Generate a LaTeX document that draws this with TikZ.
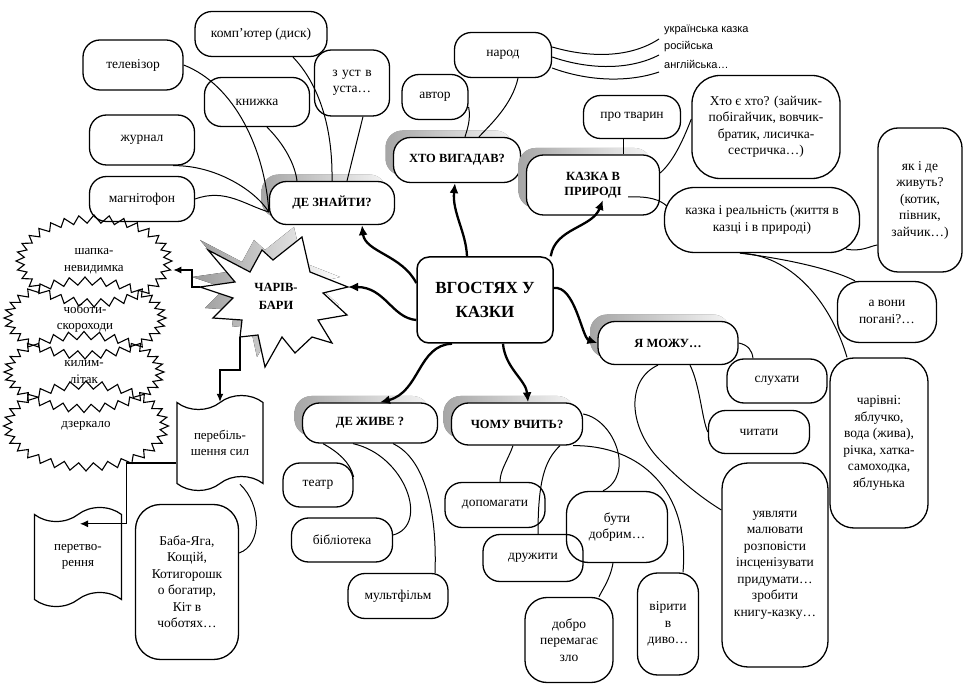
\documentclass[tikz,border=0pt]{standalone}
\usepackage{fontspec}
\setmainfont{Liberation Serif}
\newfontfamily\sansf{Liberation Sans}
\usetikzlibrary{shapes.symbols,shadows,arrows.meta}
\begin{document}
\begin{tikzpicture}[x=1pt,y=-1pt,
  every node/.style={inner sep=2pt, align=center},
  sbox/.style={draw, line width=1.3pt, rounded corners=17pt, font=\fontsize{13.5}{16.5}\selectfont},
  hbox/.style={draw, line width=1.3pt, rounded corners=17pt, fill=white,
    font=\bfseries\fontsize{12.5}{15}\selectfont,
    drop shadow={shadow xshift=-8pt, shadow yshift=7pt, opacity=1, left color=black!35, right color=black!4}},
  zig/.style={starburst, starburst points=32, starburst point height=8pt, random starburst=0,
    draw, line width=1.1pt, inner sep=0pt,
    font=\fontsize{13}{16.5}\selectfont},
  tapebox/.style={tape, draw, line width=1.2pt, tape bend height=14pt, inner sep=0pt,
    font=\fontsize{13}{16.5}\selectfont},
  con/.style={line width=1pt},
  mainarr/.style={line width=2.3pt, -{Latex[length=10pt,width=9pt]}},
  thinarr/.style={line width=1.1pt, -{Latex[length=8pt,width=7pt]}},
  utext/.style={anchor=west, inner sep=0pt, font=\sansf\fontsize{11}{12}\selectfont}
]
\useasboundingbox (0,0) rectangle (967,684);

% ---- top-left group
\node[sbox, minimum width=132pt, minimum height=45pt] (komp) at (261,34) {комп’ютер (диск)};
\node[sbox, minimum width=100pt, minimum height=50pt] (tv) at (133,65) {телевізор};
\node[sbox, minimum width=105pt, minimum height=49pt] (kn) at (257,102) {книжка};
\node[sbox, minimum width=75pt, minimum height=66pt, text width=66pt] (ust) at (352,83) {з уст в\\уста…};
\node[sbox, minimum width=105pt, minimum height=50pt] (zh) at (142,140) {журнал};
\node[sbox, minimum width=105pt, minimum height=45pt] (mag) at (142,199) {магнітофон};
\node[hbox, minimum width=125pt, minimum height=43pt] (dz) at (332,203) {ДЕ ЗНАЙТИ?};

% ---- top-middle group
\node[sbox, minimum width=97pt, minimum height=45pt] (nar) at (503,55) {народ};
\node[sbox, minimum width=66pt, minimum height=45pt] (avt) at (435,97) {автор};
\node[hbox, minimum width=127pt, minimum height=45pt] (hto) at (457,160) {ХТО ВИГАДАВ?};
\node[utext] (u1) at (664,30) {українська казка};
\node[utext] (u2) at (664,47) {російська};
\node[utext] (u3) at (664,64) {англійська…};

% ---- top-right group
\node[sbox, minimum width=97pt, minimum height=43pt] (ptv) at (632,117) {про тварин};
\node[hbox, minimum width=133pt, minimum height=60pt] (kp) at (593,185) {КАЗКА В\\ПРИРОДІ};
\node[sbox, rounded corners=28pt, minimum width=148pt, minimum height=103pt] (hto2) at (766,127) {Хто є хто? (зайчик-\\побігайчик, вовчик-\\братик, лисичка-\\сестричка…)};
\node[sbox, rounded corners=30pt, minimum width=195pt, minimum height=65pt] (kr) at (762,220) {казка і реальність (життя в\\казці і в природі)};
\node[sbox, rounded corners=20pt, minimum width=84pt, minimum height=144pt] (yak) at (920,200) {як і де\\живуть?\\(котик,\\півник,\\зайчик…)};
\node[sbox, rounded corners=22pt, minimum width=99pt, minimum height=61pt] (avon) at (887,312) {а вони\\погані?…};
\node[sbox, rounded corners=24pt, minimum width=98pt, minimum height=170pt] (char) at (879,443) {чарівні:\\яблучко,\\вода (жива),\\річка, хатка-\\самоходка,\\яблунька};

% ---- right-middle group
\node[hbox, minimum width=140pt, minimum height=43pt] (mozhu) at (668,343) {Я МОЖУ…};
\node[sbox, minimum width=100pt, minimum height=44pt] (sluh) at (777,381) {слухати};
\node[sbox, minimum width=101pt, minimum height=43pt] (chyt) at (759,432) {читати};
\node[sbox, rounded corners=26pt, minimum width=106pt, minimum height=204pt] (uyav) at (775,565) {уявляти\\малювати\\розповісти\\інсценізувати\\придумати…\\зробити\\книгу-казку…};

% ---- centre
\node[draw, line width=1.5pt, rounded corners=12pt, fill=white, minimum width=136pt, minimum height=86pt,
  font=\bfseries\fontsize{17}{24}\selectfont] (cen) at (485,300) {ВГОСТЯХ У\\КАЗКИ};

% ---- ЧАРІВ-БАРИ star
\def\chbpath{(208,250) -- (250,272) -- (262,250) -- (273,260) -- (302,237) -- (310,272) -- (348,287) -- (323,293) -- (347,315) -- (318,320) -- (332,343) -- (312,337) -- (295,353) -- (282,337) -- (265,367) -- (258,335) -- (240,337) -- (242,320) -- (213,318) -- (233,298) -- (200,287) -- (235,282) -- cycle}
\fill[shift={(-8,-10)}, left color=black!40, right color=white] \chbpath;
\draw[line width=1.2pt, fill=white] \chbpath;
\node[font=\bfseries\fontsize{12.5}{18}\selectfont] (chb) at (276,296) {ЧАРІВ-\\БАРИ};
\coordinate (chbL) at (200,287);
\coordinate (chbR) at (348,287);
\coordinate (chbB) at (240,337);

% ---- zigzag stars
\node[zig, minimum width=156pt, minimum height=92pt] (sh) at (94,261) {шапка-\\невидимка};
\node[zig, minimum width=162pt, minimum height=82pt] (cho) at (85,318) {чоботи-\\скороходи};
\node[zig, minimum width=160pt, minimum height=81pt] (kyl) at (84,372) {килим-\\літак};
\node[zig, minimum width=165pt, minimum height=90pt] (dzer) at (86,426) {дзеркало};

% ---- tapes and Baba
\node[tapebox, minimum width=86pt, minimum height=95pt] (pbs) at (220,443) {перебіль-\\шення сил};
\node[tapebox, minimum width=87pt, minimum height=99pt] (per) at (78,557) {перетво-\\рення};
\node[sbox, rounded corners=25pt, minimum width=103pt, minimum height=155pt] (baba) at (187,582) {Баба-Яга,\\Кощій,\\Котигорошк\\о богатир,\\Кіт в\\чоботях…};

% ---- bottom-middle groups
\node[hbox, minimum width=135pt, minimum height=40pt] (dzh) at (370,423) {ДЕ ЖИВЕ ?};
\node[sbox, minimum width=70pt, minimum height=44pt] (teatr) at (318,485) {театр};
\node[sbox, minimum width=101pt, minimum height=44pt] (bib) at (342,540) {бібліотека};
\node[sbox, minimum width=100pt, minimum height=45pt] (mult) at (398,596) {мультфільм};
\node[hbox, minimum width=131pt, minimum height=42pt] (chomu) at (517,424) {ЧОМУ ВЧИТЬ?};
\node[sbox, minimum width=100pt, minimum height=45pt] (dop) at (495,505) {допомагати};
\node[sbox, minimum width=100pt, minimum height=47pt] (druzh) at (533,558) {дружити};
\node[sbox, rounded corners=22pt, minimum width=101pt, minimum height=71pt] (buty) at (617,527) {бути\\добрим…};
\node[sbox, rounded corners=22pt, minimum width=88pt, minimum height=85pt] (dobro) at (569,640) {добро\\перемагає\\зло};
\node[sbox, rounded corners=20pt, minimum width=61pt, minimum height=102pt] (viry) at (668,624) {вірити\\в\\диво…};

% ---- connectors: ДЕ ЗНАЙТИ?
\draw[con] (tv.east) .. controls (235,85) and (265,150) .. ([yshift=-9pt]dz.west);
\draw[con] ([xshift=31pt]zh.south) .. controls (215,165) and (255,190) .. ([yshift=-9pt]dz.west);
\draw[con] (mag.east) .. controls (225,188) and (245,205) .. ([yshift=-9pt]dz.west);
\draw[con] ([xshift=10pt]kn.south) .. controls (285,145) and (295,165) .. ([xshift=-35pt]dz.north);
\draw[con] ([xshift=32pt]komp.south) .. controls (315,80) and (333,120) .. (dz.north);
\draw[con] ([xshift=11pt]ust.south) -- ([xshift=15pt]dz.north);

% ---- ХТО ВИГАДАВ?
\draw[con] ([yshift=-10pt]avt.east) .. controls (471,120) and (467,130) .. ([xshift=8pt]hto.north);
\draw[con] ([xshift=15pt]nar.south) .. controls (512,105) and (490,125) .. ([xshift=22pt]hto.north);
\draw[con] ([yshift=8pt]nar.east) .. controls (590,58) and (630,58) .. ([xshift=-5pt,yshift=-9pt]u1.west);
\draw[con] ([yshift=-2pt]nar.east) .. controls (590,70) and (630,70) .. ([xshift=-5pt,yshift=-8pt]u2.west);
\draw[con] ([yshift=-13pt]nar.east) .. controls (590,82) and (630,82) .. ([xshift=-5pt,yshift=-8pt]u3.west);

% ---- КАЗКА В ПРИРОДІ
\draw[con] ([xshift=-9pt]ptv.south) -- ([xshift=30pt]kp.north);
\draw[con] ([yshift=12pt]kp.east) .. controls (675,160) and (685,135) .. ([yshift=8pt]hto2.west);
\draw[con] ([xshift=-32pt,yshift=-12pt]kp.east) .. controls (650,196) and (660,200) .. ([xshift=3pt,yshift=14pt]kr.west);
\draw[con] ([xshift=-14pt,yshift=4pt]kr.south east) .. controls (862,252) and (870,246) .. ([yshift=-45pt]yak.west);
\draw[con] ([xshift=-22pt]kr.south) .. controls (780,258) and (830,268) .. ([xshift=-32pt]avon.north);
\draw[con] ([xshift=-22pt]kr.south) .. controls (790,255) and (830,300) .. ([xshift=-32pt]char.north);

% ---- Я МОЖУ
\draw[con] (mozhu.east) .. controls (748,345) and (752,350) .. ([xshift=-24pt]sluh.north);
\draw[con] ([xshift=22pt]mozhu.south) .. controls (700,385) and (702,420) .. (chyt.west);
\draw[con] ([xshift=-10pt]mozhu.south) .. controls (625,380) and (628,430) .. (663,463) .. controls (685,485) and (705,500) .. ([yshift=55pt]uyav.west);

% ---- ЧОМУ ВЧИТЬ?
\draw[con] ([xshift=-4pt]chomu.south) .. controls (508,460) and (500,470) .. ([xshift=5pt]dop.north);
\draw[con] ([xshift=43pt]chomu.south) .. controls (545,460) and (538,480) .. ([xshift=5pt]druzh.north);
\draw[con] ([yshift=10pt]chomu.east) .. controls (615,420) and (635,475) .. ([xshift=-14pt]buty.north);
\draw[con] ([xshift=-10pt]chomu.south east) .. controls (640,445) and (690,490) .. ([xshift=15pt]viry.north);
\draw[con] ([xshift=-4pt]buty.south) .. controls (610,580) and (602,590) .. ([xshift=30pt]dobro.north);

% ---- ДЕ ЖИВЕ ?
\draw[con] ([xshift=-47pt]dzh.south) .. controls (338,452) and (350,462) .. ([yshift=8pt]teatr.east);
\draw[con] ([xshift=-17pt]dzh.south) .. controls (405,455) and (430,525) .. ([yshift=5pt]bib.east);
\draw[con] ([xshift=23pt]dzh.south) .. controls (428,460) and (437,520) .. ([xshift=37pt]mult.north);

% ---- main arrows
\draw[mainarr] ([yshift=17pt]cen.west) .. controls (402,255) and (365,252) .. ([xshift=30pt]dz.south);
\draw[mainarr] ([yshift=-20pt]cen.west) .. controls (392,318) and (385,287) .. (chbR);
\draw[mainarr] ([xshift=-18pt]cen.north) .. controls (466,232) and (452,212) .. ([xshift=-2pt]hto.south);
\draw[mainarr] ([xshift=-3pt]cen.north east) .. controls (555,228) and (592,228) .. ([xshift=10pt,yshift=-15pt]kp.center);
\draw[mainarr] ([yshift=12pt]cen.east) .. controls (575,285) and (582,338) .. (mozhu.west);
\draw[mainarr] ([xshift=-33pt]cen.south) .. controls (418,345) and (420,392) .. ([xshift=10pt]dzh.north);
\draw[mainarr] ([xshift=18pt]cen.south) .. controls (505,368) and (526,380) .. ([xshift=11pt]chomu.north);

% ---- ЧАРІВ-БАРИ connectors
\draw[thinarr] (chbL) -- ++(-8,0) |- ([yshift=-9pt]sh.east);
\draw[thinarr] (chbB) -- ++(0,33) -| (pbs.north);
\draw[thinarr] ([yshift=-20pt]pbs.west) -- ++(-50,0) |- ([xshift=2pt,yshift=-10pt]per.north);
\draw[con] ([xshift=20pt]pbs.south) .. controls (262,505) and (262,545) .. ([yshift=29pt]baba.east);
\end{tikzpicture}
\end{document}
